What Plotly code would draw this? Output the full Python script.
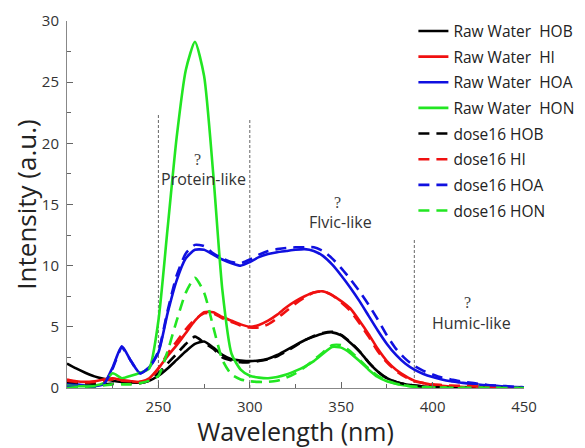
import plotly.graph_objects as go

wavelength = list(range(200, 455, 5))

raw_hob = [2.0, 1.6, 1.25, 0.95, 0.75, 0.6, 0.5, 0.45, 0.45, 0.6, 1.0, 1.6, 2.3, 3.0, 3.6, 3.8, 3.3,
           2.7, 2.35, 2.25, 2.2, 2.25, 2.4, 2.7, 3.1, 3.5, 3.9, 4.2, 4.45, 4.55, 4.3, 3.7, 3.0, 2.1,
           1.35, 0.8, 0.5, 0.3, 0.2, 0.12, 0.08, 0.06, 0.05, 0.04, 0.03, 0.03, 0.02, 0.02, 0.02, 0.01, 0.01]
raw_hi = [0.7, 0.55, 0.5, 0.55, 0.7, 0.8, 0.65, 0.55, 0.5, 0.8, 1.6, 2.6, 3.5, 4.5, 5.5, 6.2, 6.2,
          5.8, 5.5, 5.2, 5.0, 5.15, 5.5, 6.0, 6.6, 7.1, 7.5, 7.8, 7.9, 7.6, 7.1, 6.5, 5.5, 4.4,
          3.2, 2.2, 1.5, 1.0, 0.6, 0.4, 0.25, 0.18, 0.12, 0.09, 0.07, 0.05, 0.04, 0.03, 0.03, 0.02, 0.02]
raw_hoa = [0.3, 0.3, 0.2, 0.15, 0.3, 1.7, 3.4, 2.2, 1.2, 1.7, 2.9, 6.1, 8.8, 10.6, 11.3, 11.3, 10.9,
           10.5, 10.2, 10.0, 10.3, 10.7, 10.95, 11.1, 11.2, 11.3, 11.35, 11.2, 10.8, 10.1, 9.2, 8.2,
           7.1, 5.9, 4.7, 3.6, 2.7, 2.0, 1.5, 1.15, 0.9, 0.7, 0.55, 0.45, 0.35, 0.28, 0.22, 0.17, 0.12,
           0.08, 0.05]
raw_hon = [0.2, 0.15, 0.15, 0.2, 0.4, 1.2, 0.8, 1.0, 1.25, 1.6, 5.5, 13.0, 20.5, 26.0, 28.3, 25.5,
           17.5, 8.0, 2.8, 1.5, 1.0, 0.85, 0.8, 0.9, 1.1, 1.4, 1.75, 2.2, 2.8, 3.35, 3.3, 2.85, 2.2,
           1.5, 0.9, 0.55, 0.35, 0.2, 0.1, 0.06, 0.04, 0.03, 0.02, 0.02, 0.01, 0.01, 0.01, 0.01, 0.0,
           0.0, 0.0]
dose_hob = [0.5, 0.45, 0.4, 0.35, 0.3, 0.35, 0.4, 0.4, 0.4, 0.6, 1.2, 2.0, 2.8, 3.6, 4.2, 3.7, 3.2,
            2.5, 2.25, 2.1, 2.1, 2.2, 2.35, 2.6, 3.0, 3.45, 3.9, 4.25, 4.5, 4.6, 4.35, 3.75, 3.0,
            2.1, 1.35, 0.8, 0.5, 0.3, 0.2, 0.12, 0.08, 0.06, 0.05, 0.04, 0.03, 0.03, 0.02, 0.02,
            0.02, 0.01, 0.01]
dose_hi = [0.6, 0.5, 0.45, 0.5, 0.6, 0.7, 0.6, 0.55, 0.5, 0.7, 1.6, 2.8, 3.8, 4.8, 5.6, 6.1, 6.1,
           5.7, 5.4, 5.1, 4.95, 4.95, 5.2, 5.7, 6.3, 6.9, 7.4, 7.8, 7.9, 7.6, 7.0, 6.3, 5.3, 4.2,
           3.0, 2.1, 1.4, 0.9, 0.55, 0.4, 0.3, 0.25, 0.2, 0.18, 0.15, 0.12, 0.1, 0.07, 0.05, 0.04, 0.03]
dose_hoa = [0.1, 0.1, 0.1, 0.1, 0.3, 1.6, 3.3, 2.2, 1.2, 1.7, 3.0, 6.3, 9.2, 11.0, 11.7, 11.6, 11.0,
            10.6, 10.3, 10.2, 10.5, 10.9, 11.2, 11.35, 11.45, 11.5, 11.5, 11.5, 11.2, 10.6, 9.8,
            8.9, 7.9, 6.8, 5.6, 4.3, 3.2, 2.4, 1.8, 1.4, 1.1, 0.85, 0.7, 0.55, 0.45, 0.35, 0.25,
            0.2, 0.15, 0.1, 0.05]
dose_hon = [0.0, 0.05, 0.1, 0.15, 0.2, 0.3, 0.3, 0.3, 0.4, 0.6, 1.0, 3.0, 5.5, 7.8, 9.0, 7.8, 5.0,
            2.3, 1.1, 0.7, 0.55, 0.5, 0.5, 0.6, 0.85, 1.2, 1.7, 2.3, 2.9, 3.5, 3.5, 3.0, 2.3, 1.6,
            1.0, 0.6, 0.35, 0.2, 0.12, 0.08, 0.05, 0.03, 0.02, 0.02, 0.01, 0.01, 0.01, 0.0, 0.0,
            0.0, 0.0]

series_names = ["Raw Water\u00a0 HOB", "Raw Water\u00a0 HI", "Raw Water\u00a0 HOA", "Raw Water\u00a0 HON",
                "dose16 HOB", "dose16 HI", "dose16 HOA", "dose16 HON"]
series_values = [raw_hob, raw_hi, raw_hoa, raw_hon, dose_hob, dose_hi, dose_hoa, dose_hon]
colors = ["#000000", "#f01010", "#1010e0", "#22e622"]

region_bounds = [250, 300, 390]
region_tops = [22.4, 22.0, 12.1]
region_labels = ["Protein-like", "Flvic-like", "Humic-like"]
region_label_x = [274.5, 349.5, 421.5]
region_label_y = [17.1, 13.6, 5.3]
qmark_x = [271.5, 348.0, 419.0]
qmark_y = [18.7, 15.2, 7.0]

fig = go.Figure()
for i, (name, vals) in enumerate(zip(series_names, series_values)):
    dashed = i >= 4
    fig.add_trace(go.Scatter(
        x=wavelength, y=vals, name=name, mode="lines",
        legendgroup=f"g{i}",
        line=dict(color=colors[i % 4], width=2.6, shape="spline", smoothing=0.6,
                  dash="11px,7px" if dashed else "solid"),
    ))

for xb, top in zip(region_bounds, region_tops):
    fig.add_shape(type="line", x0=xb, x1=xb, y0=0, y1=top, xref="x", yref="y",
                  line=dict(color="#666666", width=1, dash="3px,2px"), layer="below")

for lx, ly, lab in zip(region_label_x, region_label_y, region_labels):
    fig.add_annotation(x=lx, y=ly, text=lab, showarrow=False,
                       font=dict(family="Open Sans", size=16, color="#333333"))
for qx, qy in zip(qmark_x, qmark_y):
    fig.add_annotation(x=qx, y=qy, text="?", showarrow=False,
                       font=dict(family="Liberation Serif", size=16, color="#444444"))

# page body adds an 8px offset; figure is sized to fill the remaining window
fig.update_layout(
    width=577, height=440,
    margin=dict(l=59, r=61, t=13, b=60, autoexpand=False),
    paper_bgcolor="white", plot_bgcolor="white",
    font=dict(family="Open Sans", color="#333333"),
    showlegend=True,
    legend=dict(x=0.758, y=1.018, xanchor="left", yanchor="top",
                bgcolor="rgba(0,0,0,0)", font=dict(family="Open Sans", size=15.5, color="#222222"),
                traceorder="grouped", tracegroupgap=2.5, itemwidth=30),
    xaxis=dict(range=[200, 450], tickvals=[250, 300, 350, 400, 450],
               ticks="inside", ticklen=6, tickcolor="#666666", showline=True,
               linecolor="#888888", linewidth=1, showgrid=False, zeroline=False,
               tickfont=dict(size=15, color="#333333"), ticklabelstandoff=5,
               minor=dict(tickmode="linear", tick0=200, dtick=25, ticks="inside", ticklen=4,
                          tickcolor="#666666", showgrid=False),
               title=dict(text="Wavelength (nm)", font=dict(size=25, color="#222222"), standoff=9)),
    yaxis=dict(range=[0, 30], tickvals=[0, 5, 10, 15, 20, 25, 30],
               ticks="inside", ticklen=6, tickcolor="#666666", showline=True,
               linecolor="#888888", linewidth=1, showgrid=False, zeroline=False,
               tickfont=dict(size=15, color="#333333"), ticklabelstandoff=4,
               minor=dict(tickmode="linear", tick0=0, dtick=2.5, ticks="inside", ticklen=4,
                          tickcolor="#666666", showgrid=False),
               title=dict(text="Intensity (a.u.)", font=dict(size=26, color="#222222"), standoff=2)),
)

fig.write_html("out.html")
